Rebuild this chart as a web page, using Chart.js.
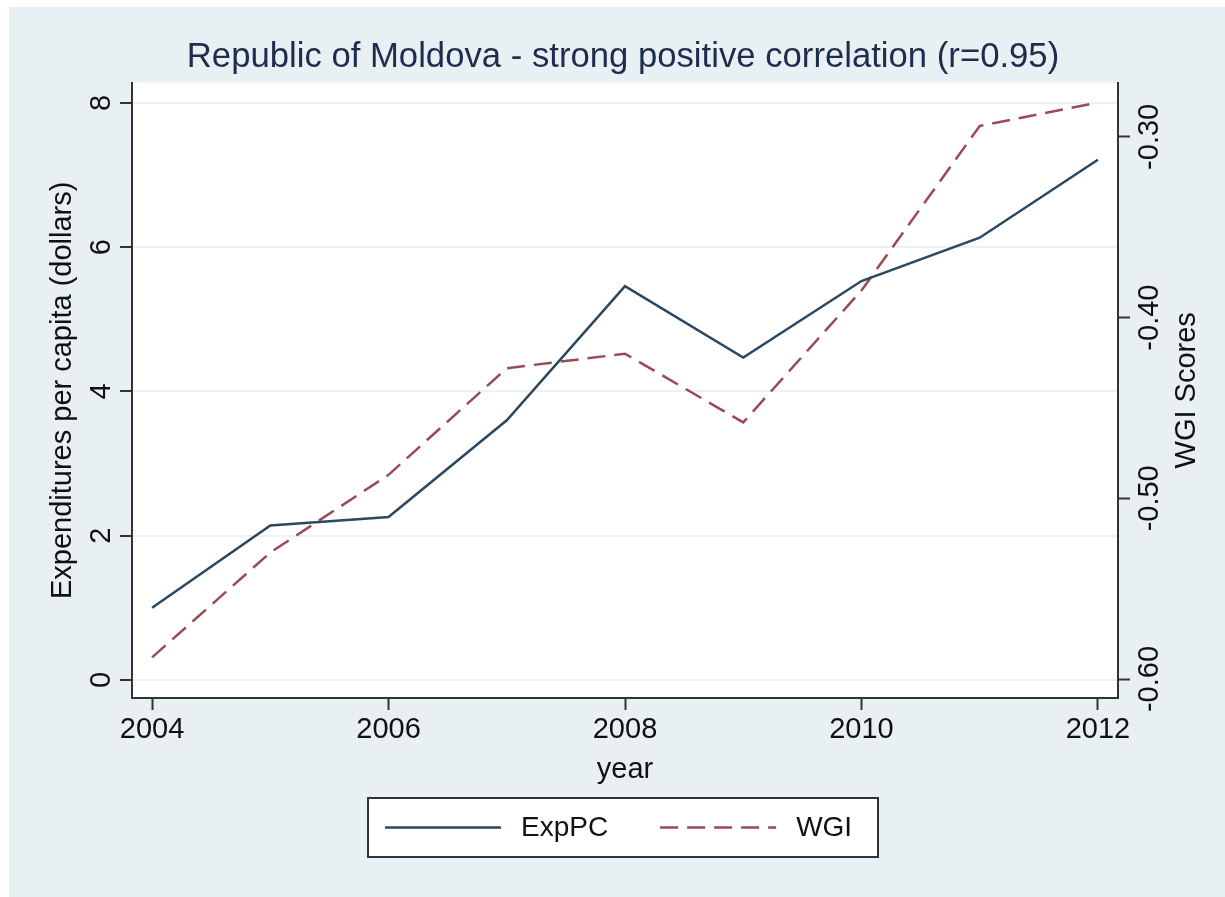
<!DOCTYPE html>
<html>
<head>
<meta charset="utf-8">
<title>Republic of Moldova</title>
<script src="https://cdn.jsdelivr.net/npm/chart.js@4.4.1/dist/chart.umd.min.js"></script>
<style>
  html, body { margin: 0; padding: 0; background: #fff; }
  canvas { display: block; }
</style>
</head>
<body>
<canvas id="chart" width="1225" height="897"></canvas>
<script>
// data
const years = [2004, 2005, 2006, 2007, 2008, 2009, 2010, 2011, 2012];
const expPC = [1.00, 2.14, 2.26, 3.60, 5.46, 4.47, 5.53, 6.13, 7.21];
const wgi = [-0.588, -0.530, -0.487, -0.428, -0.420, -0.458, -0.385, -0.294, -0.281];

const yearTicks = [2004, 2006, 2008, 2010, 2012];
const expTicks = [0, 2, 4, 6, 8];
const wgiTicks = [-0.6, -0.5, -0.4, -0.3];

const chartTitle = "Republic of Moldova - strong positive correlation (r=0.95)";
const leftTitle = "Expenditures per capita (dollars)";
const rightTitle = "WGI Scores";
const xTitle = "year";

const FONT = "'Liberation Sans', Arial, Helvetica, sans-serif";
const AXIS = "#333333";

// backgrounds, the legend box and the right-hand axis title
const framePlugin = {
  id: "frame",
  beforeDraw(chart) {
    const { ctx, chartArea: a, width, height } = chart;
    ctx.save();
    ctx.fillStyle = "#ffffff";
    ctx.fillRect(0, 0, width, height);
    ctx.fillStyle = "#e8f0f3";
    ctx.fillRect(9, 7, width - 9, height - 7);
    ctx.fillStyle = "#ffffff";
    ctx.fillRect(a.left, a.top, a.right - a.left, a.bottom - a.top);
    ctx.restore();
  },
  afterDraw(chart) {
    const { ctx, chartArea: a } = chart;
    const scale = chart.scales.y1;
    ctx.save();
    ctx.translate(scale.right - 38, (a.top + a.bottom) / 2);
    ctx.rotate(-Math.PI / 2);
    ctx.font = "29px " + FONT;
    ctx.fillStyle = "#111111";
    ctx.textAlign = "center";
    ctx.textBaseline = "middle";
    ctx.fillText(rightTitle, 0, 0);
    ctx.restore();

    // legend: framed box under the x axis title
    const box = { left: 368, top: 798, width: 510, height: 59 };
    const cy = box.top + box.height / 2;
    ctx.save();
    ctx.fillStyle = "#ffffff";
    ctx.fillRect(box.left, box.top, box.width, box.height);
    ctx.strokeStyle = AXIS;
    ctx.lineWidth = 2;
    ctx.strokeRect(box.left, box.top, box.width, box.height);
    ctx.font = "28px " + FONT;
    ctx.textAlign = "left";
    ctx.textBaseline = "middle";
    let x = box.left + 17;
    chart.data.datasets.forEach((ds) => {
      ctx.strokeStyle = ds.borderColor;
      ctx.lineWidth = ds.borderWidth;
      ctx.setLineDash(ds.borderDash || []);
      ctx.beginPath();
      ctx.moveTo(x, cy);
      ctx.lineTo(x + 116, cy);
      ctx.stroke();
      ctx.setLineDash([]);
      ctx.fillStyle = "#111111";
      ctx.fillText(ds.label, x + 136, cy + 1);
      x += 136 + ctx.measureText(ds.label).width + 52;
    });
    ctx.restore();
  }
};

const ctx = document.getElementById("chart").getContext("2d");
new Chart(ctx, {
  type: "line",
  data: {
    datasets: [
      {
        label: "ExpPC",
        data: years.map((yr, i) => ({ x: yr, y: expPC[i] })),
        yAxisID: "y",
        borderColor: "#2b4860",
        borderWidth: 2.5,
        pointRadius: 0,
        tension: 0
      },
      {
        label: "WGI",
        data: years.map((yr, i) => ({ x: yr, y: wgi[i] })),
        yAxisID: "y1",
        borderColor: "#9b4a55",
        borderWidth: 2.5,
        borderDash: [18, 9],
        pointRadius: 0,
        tension: 0
      }
    ]
  },
  options: {
    responsive: false,
    animation: false,
    devicePixelRatio: 1,
    layout: { padding: { left: 21, top: 7, right: 0, bottom: 93 } },
    plugins: {
      title: {
        display: true,
        text: chartTitle,
        color: "#1e2d4d",
        font: { family: FONT, size: 34.7, weight: "normal", lineHeight: 1.2 },
        padding: { top: 30, bottom: 4 }
      },
      legend: { display: false },
      tooltip: { enabled: false }
    },
    scales: {
      x: {
        type: "linear",
        position: "bottom",
        min: 2003.83,
        max: 2012.17,
        afterBuildTicks: (scale) => { scale.ticks = yearTicks.map(v => ({ value: v })); },
        afterFit: (scale) => { scale.height = 106; },
        ticks: {
          padding: 3,
          color: "#111111",
          font: { family: FONT, size: 29 },
          callback: (v) => String(v),
          maxRotation: 0,
          autoSkip: false
        },
        grid: { drawOnChartArea: false, tickLength: 12, tickColor: AXIS, tickWidth: 2 },
        border: { display: true, color: AXIS, width: 2 },
        title: {
          display: true,
          text: xTitle,
          color: "#111111",
          font: { family: FONT, size: 29 },
          padding: { top: 0, bottom: 17 }
        }
      },
      y: {
        position: "left",
        min: -0.25,
        max: 8.28,
        afterBuildTicks: (scale) => { scale.ticks = expTicks.map(v => ({ value: v })); },
        afterFit: (scale) => { scale.width = 111; },
        ticks: {
          padding: 10,
          minRotation: 90,
          maxRotation: 90,
          crossAlign: "center",
          color: "#111111",
          font: { family: FONT, size: 29 }
        },
        grid: { color: "#edf1f2", lineWidth: 2, tickLength: 12, tickColor: AXIS, tickWidth: 2 },
        border: { display: true, color: AXIS, width: 2 },
        title: {
          display: true,
          text: leftTitle,
          color: "#111111",
          font: { family: FONT, size: 29 },
          padding: { top: 25, bottom: 0 }
        }
      },
      y1: {
        position: "right",
        min: -0.6105,
        max: -0.27,
        afterBuildTicks: (scale) => { scale.ticks = wgiTicks.map(v => ({ value: v })); },
        afterFit: (scale) => { scale.width = 107; },
        ticks: {
          padding: -13,
          minRotation: 90,
          maxRotation: 90,
          crossAlign: "center",
          color: "#111111",
          font: { family: FONT, size: 29 },
          callback: (v) => v.toFixed(2)
        },
        grid: { drawOnChartArea: false, tickLength: 12, tickColor: AXIS, tickWidth: 2 },
        border: { display: true, color: AXIS, width: 2 }
      }
    }
  },
  plugins: [framePlugin]
});
</script>
</body>
</html>
